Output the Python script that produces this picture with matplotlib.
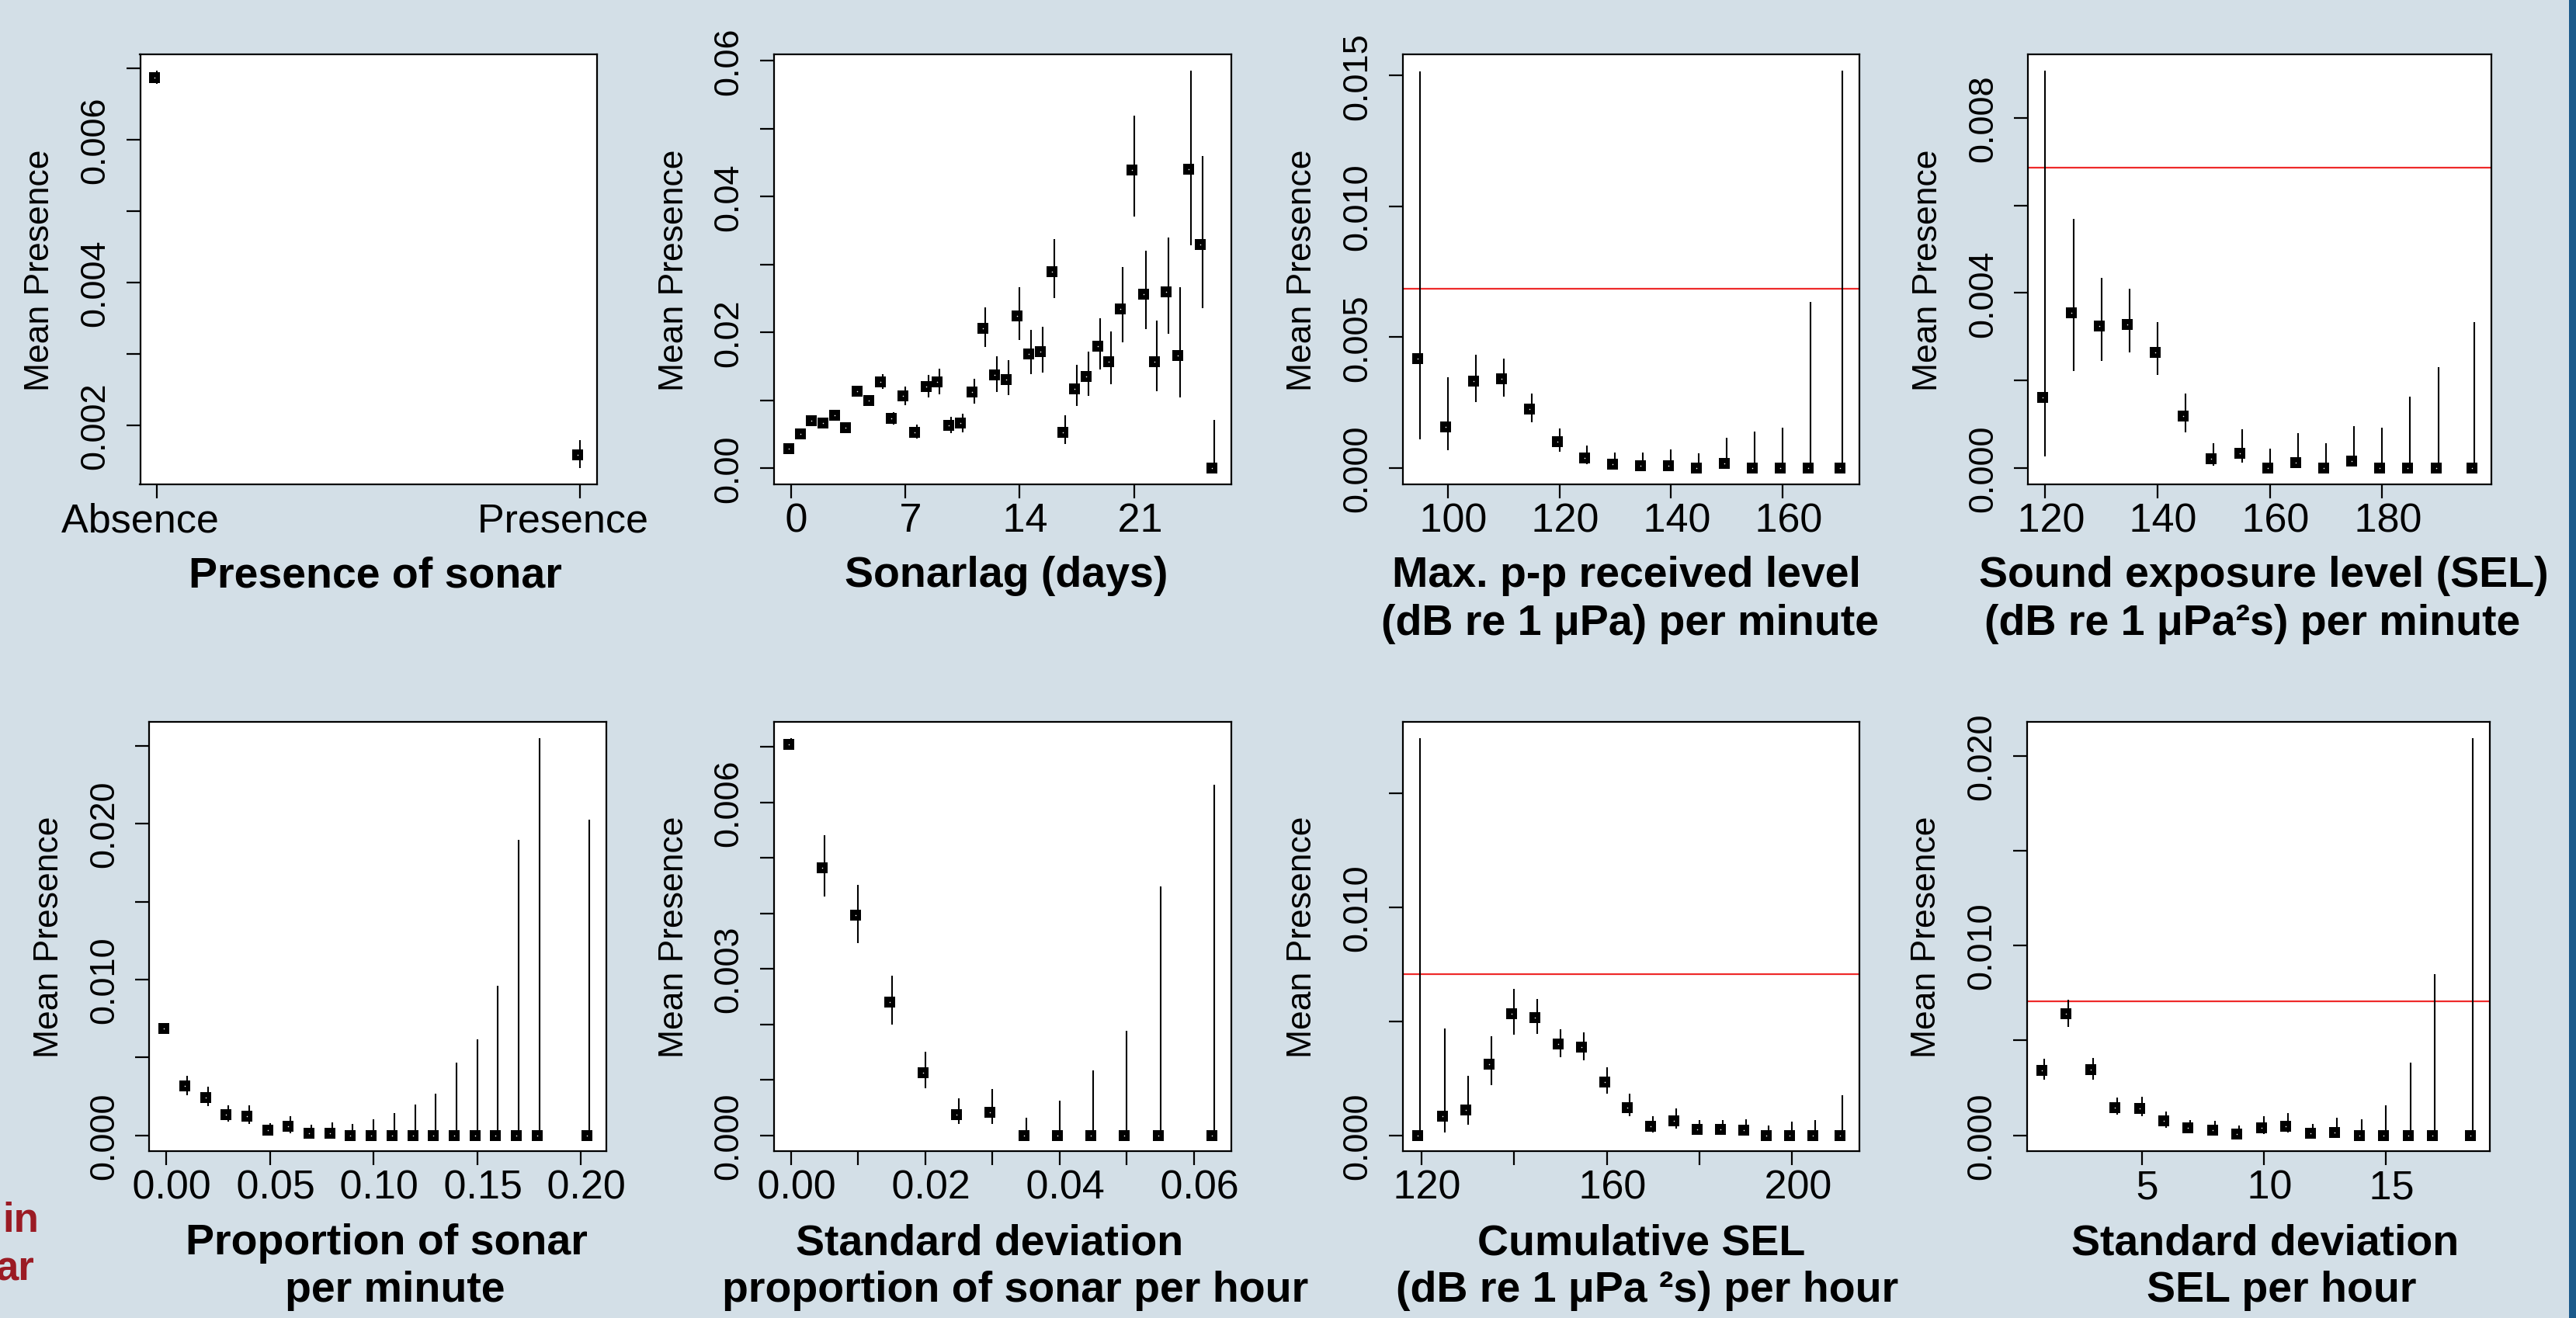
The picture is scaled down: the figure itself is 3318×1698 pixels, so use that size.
import matplotlib
matplotlib.use("Agg")
import matplotlib.pyplot as plt
from matplotlib.patches import Rectangle
from matplotlib.transforms import offset_copy

plt.rcParams['font.family'] = ['Liberation Sans', 'DejaVu Sans']

# ---------------- data ----------------
# Panel 1: presence of sonar
pres_cats = ['Absence', 'Presence']
pres_x = [1, 2]
pres_mean = [0.00687, 0.00159]
pres_lo = [0.00678, 0.00140]
pres_hi = [0.00697, 0.00179]

# Panel 2: sonar lag (days)
lag_days = [0.0, 0.7, 1.4, 2.1, 2.8, 3.5, 4.2, 4.9, 5.6, 6.3, 7.0, 7.7, 8.4, 9.1,
            9.8, 10.5, 11.2, 11.9, 12.6, 13.3, 14.0, 14.7, 15.4, 16.1, 16.8, 17.5,
            18.2, 18.9, 19.6, 20.3, 21.0, 21.7, 22.4, 23.1, 23.8, 24.5, 25.2, 25.9]
lag_mean = [0.0029, 0.0050, 0.0070, 0.0066, 0.0078, 0.0059, 0.0113, 0.0099, 0.0127,
            0.0073, 0.0106, 0.0053, 0.0120, 0.0127, 0.0063, 0.0066, 0.0112, 0.0206,
            0.0137, 0.0130, 0.0224, 0.0168, 0.0171, 0.0289, 0.0053, 0.0117, 0.0135,
            0.0180, 0.0157, 0.0234, 0.0439, 0.0256, 0.0157, 0.0260, 0.0166, 0.0440,
            0.0329, 0.0000]
lag_lo = [0.0024, 0.0045, 0.0064, 0.0060, 0.0072, 0.0053, 0.0107, 0.0093, 0.0117,
          0.0064, 0.0093, 0.0043, 0.0104, 0.0109, 0.0052, 0.0053, 0.0095, 0.0178,
          0.0112, 0.0107, 0.0189, 0.0138, 0.0141, 0.0250, 0.0036, 0.0091, 0.0106,
          0.0145, 0.0123, 0.0185, 0.0370, 0.0205, 0.0113, 0.0198, 0.0104, 0.0328,
          0.0235, 0.0000]
lag_hi = [0.0034, 0.0056, 0.0076, 0.0072, 0.0084, 0.0065, 0.0119, 0.0105, 0.0138,
          0.0082, 0.0120, 0.0064, 0.0137, 0.0146, 0.0076, 0.0080, 0.0132, 0.0237,
          0.0165, 0.0159, 0.0266, 0.0204, 0.0208, 0.0337, 0.0078, 0.0152, 0.0172,
          0.0221, 0.0201, 0.0296, 0.0519, 0.0320, 0.0217, 0.0340, 0.0266, 0.0586,
          0.0460, 0.0071]

# Panel 3: max peak-peak received level per minute
ppl_x = [95, 100, 105, 110, 115, 120, 125, 130, 135, 140, 145, 150, 155, 160, 165, 170.7]
ppl_mean = [0.00418, 0.00158, 0.00332, 0.00340, 0.00226, 0.00100, 0.00040, 0.00015,
            0.00008, 0.00010, 0.0, 0.00019, 0.0, 0.0, 0.0, 0.0]
ppl_lo = [0.00111, 0.00069, 0.00253, 0.00274, 0.00176, 0.00063, 0.00015, 0.0,
          0.0, 0.0, 0.0, 0.0, 0.0, 0.0, 0.0, 0.0]
ppl_hi = [0.01515, 0.00347, 0.00434, 0.00419, 0.00285, 0.00150, 0.00085, 0.00060,
          0.00060, 0.00070, 0.00055, 0.00116, 0.00140, 0.00155, 0.00635, 0.01520]

# Panel 4: SEL per minute
sel_x = [120, 125, 130, 135, 140, 145, 150, 155, 160, 165, 170, 175, 180, 185, 190, 196.4]
sel_mean = [0.00161, 0.00355, 0.00325, 0.00329, 0.00265, 0.00119, 0.00021, 0.00034,
            0.0, 0.00013, 0.0, 0.00016, 0.0, 0.0, 0.0, 0.0]
sel_lo = [0.00027, 0.00221, 0.00244, 0.00264, 0.00212, 0.00082, 0.00006, 0.00012,
          0.0, 0.00003, 0.0, 0.00003, 0.0, 0.0, 0.0, 0.0]
sel_hi = [0.00909, 0.00569, 0.00434, 0.00410, 0.00333, 0.00170, 0.00057, 0.00088,
          0.00045, 0.00080, 0.00056, 0.00095, 0.00093, 0.00164, 0.00231, 0.00333]

# Panel 5: proportion of sonar per minute
prop_x = [0.00, 0.01, 0.02, 0.03, 0.04, 0.05, 0.06, 0.07, 0.08, 0.09, 0.10, 0.11,
          0.12, 0.13, 0.14, 0.15, 0.16, 0.17, 0.18, 0.204]
prop_mean = [0.00687, 0.00315, 0.00245, 0.00132, 0.00124, 0.00035, 0.00057, 0.00013,
             0.00016, 0.0, 0.0, 0.0, 0.0, 0.0, 0.0, 0.0, 0.0, 0.0, 0.0, 0.0]
prop_lo = [0.00678, 0.00256, 0.00189, 0.00086, 0.00075, 0.0, 0.00013, 0.0,
           0.0, 0.0, 0.0, 0.0, 0.0, 0.0, 0.0, 0.0, 0.0, 0.0, 0.0, 0.0]
prop_hi = [0.00697, 0.00383, 0.00310, 0.00191, 0.00191, 0.00078, 0.00121, 0.00067,
           0.00084, 0.00075, 0.00102, 0.00143, 0.00200, 0.00267, 0.00469, 0.00617,
           0.00962, 0.01898, 0.02550, 0.02027]

# Panel 6: SD of proportion of sonar per hour
sdp_x = [0.000, 0.005, 0.010, 0.015, 0.020, 0.025, 0.030, 0.035, 0.040, 0.045,
         0.050, 0.055, 0.063]
sdp_mean = [0.00705, 0.00482, 0.00397, 0.00240, 0.00113, 0.00038, 0.00042, 0.0,
            0.0, 0.0, 0.0, 0.0, 0.0]
sdp_lo = [0.00696, 0.00430, 0.00347, 0.00200, 0.00085, 0.00020, 0.00020, 0.0,
          0.0, 0.0, 0.0, 0.0, 0.0]
sdp_hi = [0.00716, 0.00541, 0.00452, 0.00288, 0.00150, 0.00067, 0.00084, 0.00032,
          0.00063, 0.00117, 0.00189, 0.00448, 0.00632]

# Panel 7: cumulative SEL per hour
cum_x = [119.6, 125, 130, 135, 140, 145, 150, 155, 160, 165, 170, 175, 180, 185,
         190, 195, 200, 205, 210.9]
cum_mean = [0.0, 0.00083, 0.00112, 0.00311, 0.00532, 0.00517, 0.00400, 0.00387,
            0.00234, 0.00123, 0.00040, 0.00063, 0.00026, 0.00026, 0.00024, 0.0,
            0.0, 0.0, 0.0]
cum_lo = [0.0, 0.00013, 0.00046, 0.00221, 0.00440, 0.00444, 0.00343, 0.00328,
          0.00184, 0.00083, 0.00013, 0.00031, 0.00004, 0.00004, 0.00004, 0.0,
          0.0, 0.0, 0.0]
cum_hi = [0.01742, 0.00470, 0.00262, 0.00436, 0.00641, 0.00599, 0.00464, 0.00451,
          0.00297, 0.00184, 0.00083, 0.00118, 0.00068, 0.00068, 0.00070, 0.00044,
          0.00061, 0.00068, 0.00175]

# Panel 8: SD of SEL per hour
sds_x = [1, 2, 3, 4, 5, 6, 7, 8, 9, 10, 11, 12, 13, 14, 15, 16, 17, 18.55]
sds_mean = [0.00343, 0.00639, 0.00347, 0.00148, 0.00144, 0.00075, 0.00038, 0.00029,
            0.00009, 0.00040, 0.00049, 0.00011, 0.00015, 0.0, 0.0, 0.0, 0.0, 0.0]
sds_lo = [0.00292, 0.00573, 0.00292, 0.00111, 0.00100, 0.00040, 0.00011, 0.00002,
          0.0, 0.00009, 0.00015, 0.0, 0.0, 0.0, 0.0, 0.0, 0.0, 0.0]
sds_hi = [0.00403, 0.00715, 0.00409, 0.00199, 0.00204, 0.00124, 0.00082, 0.00077,
          0.00053, 0.00100, 0.00117, 0.00062, 0.00091, 0.00084, 0.00159, 0.00383,
          0.00850, 0.02093]

# overall mean presence reference lines
minute_mean = 0.00686
hour_mean = 0.00706

# ---------------- layout ----------------
W, H = 3318, 1699
DPI = 100
fig = plt.figure(figsize=(W / DPI, H / DPI), dpi=DPI)
fig.patch.set_facecolor('#D3DFE7')
fig.add_artist(Rectangle((3309 / W, 0), 9 / W, 1, transform=fig.transFigure,
                         facecolor='#1B5A8B', edgecolor='none'))

PX = 72.0 / DPI  # points per pixel


def make_ax(x0, x1, y0, y1):
    ax = fig.add_axes([x0 / W, 1 - y1 / H, (x1 - x0) / W, (y1 - y0) / H])
    ax.set_facecolor('white')
    for s in ax.spines.values():
        s.set_linewidth(1.6)
        s.set_color('black')
    ax.tick_params(axis='both', length=18 * PX, width=1.6, color='black')
    ax.tick_params(axis='x', pad=29 * PX, labelsize=37.5)
    ax.tick_params(axis='y', pad=40 * PX, labelsize=32.5)
    return ax


def pad_lim(vmin, vmax):
    r = vmax - vmin
    return vmin - 0.04 * r, vmax + 0.04 * r


def draw(ax, x, mean, lo, hi, ref=None):
    ax.vlines(x, lo, hi, color='black', lw=1.5, zorder=3)
    tr = offset_copy(ax.transData, fig=fig, x=-3, y=0, units='dots')
    ax.plot(x, mean, 's', color='black', ms=10, mew=0, transform=tr, zorder=4)
    ax.plot(x, mean, '.', color='white', ms=2.2, mew=0, transform=tr, zorder=5)
    if ref is not None:
        ax.axhline(ref, color='#EE2A2A', lw=1.6, zorder=2)
    ax.set_xlim(*pad_lim(min(x), max(x)))
    ax.set_ylim(*pad_lim(min(lo), max(hi)))


def yticks(ax, ticks, labels):
    ax.set_yticks(ticks, labels, rotation=90, va='center', ha='center')


def xticks(ax, ticks, labels, lead=' '):
    ax.set_xticks(ticks, [lead + l if l else l for l in labels], va='center')


def xlabel(ax, lines):
    offs = [118, 179]
    for (txt, cx), off in zip(lines, offs):
        ax.annotate(txt, xy=(cx, 0), xycoords='axes fraction',
                    xytext=(0, -off * PX), textcoords='offset points',
                    ha='center', va='center', fontsize=40, fontweight='bold',
                    annotation_clip=False)


def ylabel(ax):
    ax.annotate('Mean Presence', xy=(0, 0.5), xycoords='axes fraction',
                xytext=(-129 * PX, 0), textcoords='offset points',
                ha='center', va='center', rotation=90, fontsize=32,
                annotation_clip=False)


# Panel 1
ax = make_ax(180.5, 768.7, 71, 624.5)
draw(ax, pres_x, pres_mean, pres_lo, pres_hi)
yticks(ax, [0.002, 0.003, 0.004, 0.005, 0.006, 0.007],
       ['0.002', '', '0.004', '', '0.006', ''])
ax.set_xticks(pres_x, [c + '   ' for c in pres_cats], va='center')
xlabel(ax, [('Presence of sonar', 0.515)])
ylabel(ax)

# Panel 2
ax = make_ax(997, 1585.7, 71, 624.5)
draw(ax, lag_days, lag_mean, lag_lo, lag_hi)
yticks(ax, [0.0, 0.01, 0.02, 0.03, 0.04, 0.05, 0.06],
       ['0.00', '', '0.02', '', '0.04', '', '0.06'])
xticks(ax, [0, 7, 14, 21], ['0', '7', '14', '21'])
xlabel(ax, [('Sonarlag (days)', 0.509)])
ylabel(ax)

# Panel 3
ax = make_ax(1806.9, 2395, 71, 624.5)
draw(ax, ppl_x, ppl_mean, ppl_lo, ppl_hi, ref=minute_mean)
yticks(ax, [0.0, 0.005, 0.010, 0.015], ['0.000', '0.005', '0.010', '0.015'])
xticks(ax, [100, 120, 140, 160], ['100', '120', '140', '160'])
xlabel(ax, [('Max. p-p received level', 0.49),
            ('(dB re 1 μPa) per minute', 0.497)])
ylabel(ax)

# Panel 4
ax = make_ax(2612.3, 3209, 71, 624.5)
draw(ax, sel_x, sel_mean, sel_lo, sel_hi, ref=minute_mean)
yticks(ax, [0.0, 0.002, 0.004, 0.006, 0.008], ['0.000', '', '0.004', '', '0.008'])
xticks(ax, [120, 140, 160, 180], ['120', '140', '160', '180'])
xlabel(ax, [('Sound exposure level (SEL)', 0.509),
            ('(dB re 1 μPa²s) per minute', 0.484)])
ylabel(ax)

# Panel 5
ax = make_ax(192.4, 780.6, 931.3, 1484.2)
draw(ax, prop_x, prop_mean, prop_lo, prop_hi)
yticks(ax, [0.0, 0.005, 0.010, 0.015, 0.020, 0.025],
       ['0.000', '', '0.010', '', '0.020', ''])
xticks(ax, [0.0, 0.05, 0.10, 0.15, 0.20], ['0.00', '0.05', '0.10', '0.15', '0.20'])
xlabel(ax, [('Proportion of sonar', 0.52), ('per minute', 0.537)])
ylabel(ax)

# Panel 6
ax = make_ax(997, 1585.7, 931.3, 1484.2)
draw(ax, sdp_x, sdp_mean, sdp_lo, sdp_hi)
yticks(ax, [0.0, 0.001, 0.002, 0.003, 0.004, 0.005, 0.006, 0.007],
       ['0.000', '', '', '0.003', '', '', '0.006', ''])
xticks(ax, [0.0, 0.01, 0.02, 0.03, 0.04, 0.05, 0.06],
       ['0.00', '', '0.02', '', '0.04', '', '0.06'])
xlabel(ax, [('Standard deviation', 0.471),
            ('proportion of sonar per hour', 0.528)])
ylabel(ax)

# Panel 7
ax = make_ax(1806.9, 2395, 931.3, 1484.2)
draw(ax, cum_x, cum_mean, cum_lo, cum_hi, ref=hour_mean)
yticks(ax, [0.0, 0.005, 0.010, 0.015], ['0.000', '', '0.010', ''])
xticks(ax, [120, 140, 160, 180, 200], ['120', '', '160', '', '200'])
xlabel(ax, [('Cumulative SEL', 0.522), ('(dB re 1 μPa ²s) per hour', 0.536)])
ylabel(ax)

# Panel 8
ax = make_ax(2610.6, 3207, 931.3, 1484.2)
draw(ax, sds_x, sds_mean, sds_lo, sds_hi, ref=hour_mean)
yticks(ax, [0.0, 0.005, 0.010, 0.015, 0.020], ['0.000', '', '0.010', '', '0.020'])
xticks(ax, [5, 10, 15], ['5', '10', '15'])
xlabel(ax, [('Standard deviation', 0.515), ('SEL per hour', 0.55)])
ylabel(ax)

# cut-off slide text at the left edge
fig.text(50 / W, 1 - 1587 / H, 'in', ha='right', va='baseline', color='#9B1B24',
         fontsize=38, fontweight='bold')
fig.text(44 / W, 1 - 1650 / H, 'ar', ha='right', va='baseline', color='#9B1B24',
         fontsize=38, fontweight='bold')

fig.savefig('out.png', dpi=DPI, facecolor=fig.get_facecolor())
